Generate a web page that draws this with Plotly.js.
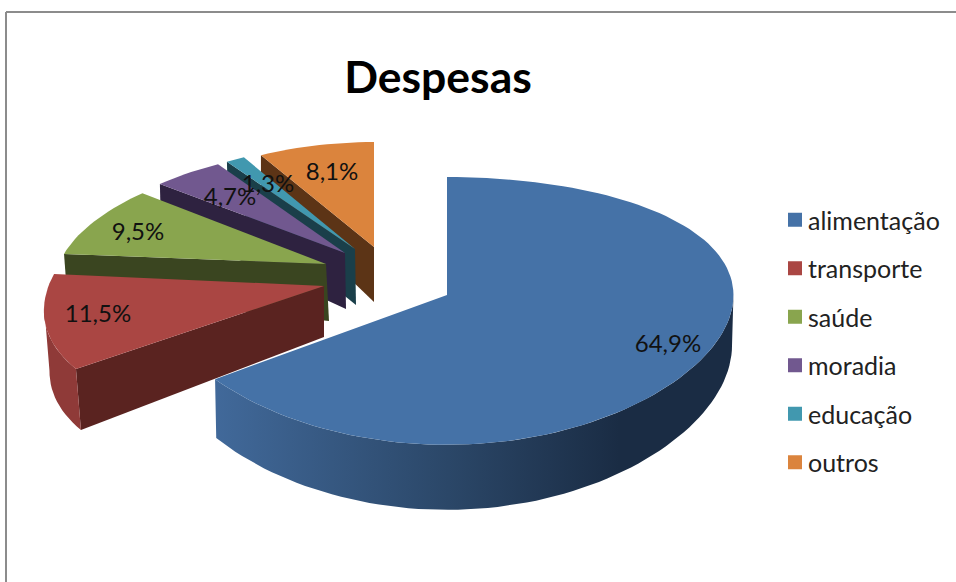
<!DOCTYPE html>
<html><head><meta charset="utf-8">
<script src="https://cdn.plot.ly/plotly-3.0.1.min.js"></script>
<style>html,body{margin:0;padding:0;background:#fff}#chart{width:956px;height:582px}</style>
</head><body><div id="chart"></div>
<script>
// DATA
const categories = ['alimentação','transporte','saúde','moradia','educação','outros'];
const values = [64.9,11.5,9.5,4.7,1.3,8.1];
// COLOURS
const topColors  = ['#4572A7','#AA4643','#89A54E','#71588F','#4198AF','#DB843D'];
const faceColors = ['#1a2d44','#5a2320','#3a4520','#2e2240','#1a3f4a','#5c3416'];
const FONT = 'Lato, Carlito, sans-serif';
// GEOMETRY of the tilted, exploded pie (positions in plot units = pixels)
const apexX = [447,324,326,345,355,374];
const apexY = [295,286,264,253,249,247];
const rxStart = [285.5,308,263,239,230,232];
const rxEnd   = [288,271,237,228,228,232];
const ryStart = [132,140,115,109,105,105];
const ryEnd   = [132,138,112,107,105,105];
const tilt    = [0.119,0,0,0,0,0];
const depthApex = [50,51,57,56,56,55];
const depthRim  = [50,61,40,40,40,38];
const depthTilt = [15,0,0,0,0,0];
const wallShiftX = [0,0,3,1,1,0];
const wallScaleX = [0.995,0.98,1,1,1,1];
const wallFromDeg = [90,null,null,null,null,null];
const wallToDeg   = [null,262,null,null,null,null];
const labelX = [668,98,138,230,268,332];
const labelY = [346,316,234,199,186,174];
const legendSwatchShift = 7;

const total = values.reduce((a,b)=>a+b,0);
const bounds = [0]; values.forEach((v,i)=>bounds.push(bounds[i]+v/total*360));
const lerp=(a,b,t)=>a+(b-a)*t;
function rim(i,deg){
  const r=deg*Math.PI/180, s=Math.sin(r), c=-Math.cos(r);
  const t=(deg-bounds[i])/(bounds[i+1]-bounds[i]);
  const rx=lerp(rxStart[i],rxEnd[i],t), ry=lerp(ryStart[i],ryEnd[i],t)/(1-tilt[i]*c);
  return {x:apexX[i]+rx*s, y:apexY[i]+ry*c, c};
}
function rimBottom(i,p){
  return {x:apexX[i]+wallShiftX[i]+(p.x-apexX[i])*wallScaleX[i], y:p.y+depthRim[i]+depthTilt[i]*p.c};
}
function arc(i,a,b){const out=[];const n=Math.max(6,Math.ceil((b-a)/2));for(let k=0;k<=n;k++)out.push(rim(i,lerp(a,b,k/n)));return out;}
function poly(pts,name,extra){
  return Object.assign({type:'scatter',mode:'lines',x:pts.map(p=>p.x),y:pts.map(p=>p.y),fill:'toself',
    line:{width:0},hoverinfo:'skip',showlegend:false,name},extra);
}
const traces=[];
// back slices first, the main slice last
for(let i=values.length-1;i>=0;i--){
  const a0=bounds[i],a1=bounds[i+1],apex={x:apexX[i],y:apexY[i]};
  if(i>0){
    const corner=rim(i,a0);
    traces.push(poly([apex,corner,rimBottom(i,corner),{x:apex.x+wallShiftX[i],y:apex.y+depthApex[i]}],categories[i],{fillcolor:faceColors[i]}));
  }
  if(i===1){
    const pts=arc(i,a0,wallToDeg[i]); const b=pts.map(p=>rimBottom(i,p)).reverse();
    traces.push(poly(pts.concat(b),categories[i],{fillcolor:'#8f3a38'}));
  }
  if(i===0){
    const pts=arc(i,wallFromDeg[i],a1); const b=pts.map(p=>rimBottom(i,p)).reverse();
    traces.push(poly(pts.concat(b),categories[i],{fillcolor:'#2a4566',
      fillgradient:{type:'horizontal',colorscale:[[0,'#41699a'],[0.45,'#2b4768'],[0.78,'#1a2c44'],[1,'#1a2c44']]}}));
  }
  traces.push(poly([apex].concat(arc(i,a0,a1)),categories[i],{fillcolor:topColors[i]}));
}
// percentage labels
traces.push({type:'scatter',mode:'text',x:labelX,y:labelY,
  text:values.map(v=>v.toFixed(1).replace('.',',')+'%'),
  textfont:{family:FONT,size:24,color:'#111'},textposition:'middle center',hoverinfo:'skip',showlegend:false,cliponaxis:false});
// legend entries
categories.forEach((c,i)=>traces.push({type:'scatter',mode:'markers',x:[-500],y:[-500],name:c,legendgroup:c,
  marker:{symbol:'square',size:14,color:topColors[i]},hoverinfo:'skip'}));

const layout={width:956,height:582,margin:{l:0,r:0,t:0,b:0,pad:0},paper_bgcolor:'#fff',plot_bgcolor:'#fff',
  title:{text:'<b>Despesas</b>',font:{family:FONT,size:44.5,color:'#000'},x:438/956,xanchor:'center',xref:'paper',y:1-77/582,yanchor:'middle',yref:'paper'},
  xaxis:{range:[0,956],visible:false,fixedrange:true},
  yaxis:{range:[582,0],visible:false,fixedrange:true},
  legend:{x:768/956,y:1-197/582,xanchor:'left',yanchor:'top',font:{family:FONT,size:25,color:'#222'},
    tracegroupgap:13,itemwidth:30,bgcolor:'rgba(0,0,0,0)',itemclick:false,itemdoubleclick:false},
  shapes:[
    {type:'line',xref:'x',yref:'y',x0:6,x1:956,y0:12,y1:12,line:{color:'#8c8c8c',width:2}},
    {type:'line',xref:'x',yref:'y',x0:6,x1:6,y0:12,y1:582,line:{color:'#8c8c8c',width:2}}
  ]};
Plotly.newPlot('chart',traces,layout,{displayModeBar:false}).then(()=>{
  document.querySelectorAll('#chart .legend .legendsymbols').forEach(n=>{
    n.setAttribute('transform','translate('+legendSwatchShift+',0)');
  });
});
</script></body></html>
